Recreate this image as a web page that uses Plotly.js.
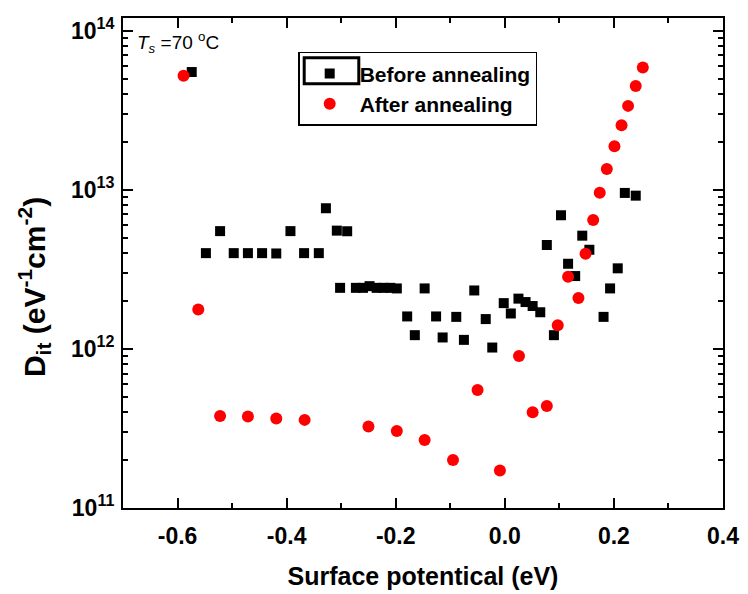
<!DOCTYPE html>
<html>
<head>
<meta charset="utf-8">
<script src="https://cdn.plot.ly/plotly-3.0.1.min.js"></script>
<style>html,body{margin:0;padding:0;background:#fff;}</style>
</head>
<body>
<div id="chart" style="width:748px;height:594px;"></div>
<script>
// Before annealing (black squares)
const beforeX = [-0.574, -0.548, -0.522, -0.497, -0.471, -0.445, -0.419, -0.393, -0.368, -0.341,
  -0.328, -0.308, -0.302, -0.289, -0.273, -0.260, -0.248, -0.235, -0.222, -0.210, -0.198,
  -0.179, -0.165, -0.147, -0.126, -0.114, -0.089, -0.075, -0.056, -0.035, -0.023, -0.002,
  0.011, 0.025, 0.038, 0.051, 0.065, 0.090, 0.077, 0.103, 0.116, 0.129, 0.142, 0.155,
  0.181, 0.193, 0.207, 0.220, 0.240];
const beforeY = [5.5e13, 4.0e12, 5.5e12, 4.0e12, 4.0e12, 4.0e12, 3.98e12, 5.5e12, 4.0e12, 4.0e12,
  7.66e12, 5.54e12, 2.42e12, 5.49e12, 2.42e12, 2.42e12, 2.48e12, 2.42e12, 2.42e12, 2.42e12, 2.40e12,
  1.60e12, 1.22e12, 2.40e12, 1.60e12, 1.18e12, 1.59e12, 1.14e12, 2.33e12, 1.54e12, 1.02e12, 1.94e12,
  1.67e12, 2.07e12, 1.97e12, 1.86e12, 1.70e12, 1.22e12, 4.50e12, 6.92e12, 3.43e12, 2.87e12, 5.15e12, 4.20e12,
  1.59e12, 2.40e12, 3.21e12, 9.56e12, 9.19e12];

// After annealing (red circles)
const afterX = [-0.589, -0.562, -0.522, -0.471, -0.419, -0.367, -0.250, -0.198, -0.147, -0.095,
  -0.050, -0.009, 0.026, 0.051, 0.077, 0.097, 0.116, 0.135, 0.148, 0.162, 0.174, 0.187,
  0.201, 0.214, 0.226, 0.240, 0.253];
const afterY = [5.21e13, 1.77e12, 3.79e11, 3.76e11, 3.65e11, 3.58e11, 3.25e11, 3.05e11, 2.68e11, 2.00e11,
  5.51e11, 1.72e11, 9.01e11, 4.00e11, 4.37e11, 1.41e12, 2.84e12, 2.09e12, 3.97e12, 6.47e12, 9.60e12, 1.35e13,
  1.88e13, 2.55e13, 3.37e13, 4.49e13, 5.87e13];

const seriesNames = ["Before annealing", "After annealing"];
const xTickVals = [-0.6, -0.4, -0.2, 0.0, 0.2, 0.4];
const xTickText = ["-0.6", "-0.4", "-0.2", "0.0", "0.2", "0.4"];
const yTickVals = [1e11, 1e12, 1e13, 1e14];
const yTickText = ["10<sup>11</sup>", "10<sup>12</sup>", "10<sup>13</sup>", "10<sup>14</sup>"];
const xTitle = "Surface potentical (eV)";
const yTitle = "D<sub>it</sub> (eV<sup>-1</sup>cm<sup>-2</sup>)";
const noteText = "<i>T</i><sub><i>s</i></sub> =70 <sup>o</sup>C";

const FONT = "Liberation Sans, Arial, Helvetica, sans-serif";
const bold = s => "<b>" + s + "</b>";

const traces = [
  {x: beforeX, y: beforeY, name: seriesNames[0], type: "scatter", mode: "markers",
   marker: {symbol: "square", size: 10, color: "#000000"}},
  {x: afterX, y: afterY, name: seriesNames[1], type: "scatter", mode: "markers",
   marker: {symbol: "circle", size: 12, color: "#ff0000"}}
];

const axisCommon = {
  showline: true, linecolor: "#000", linewidth: 2,
  mirror: "allticks", ticks: "inside", ticklen: 10, tickwidth: 2, tickcolor: "#000",
  showgrid: false, zeroline: false,
  tickfont: {family: FONT, size: 23, color: "#000", weight: "bold"}
};

const layout = {
  width: 748, height: 594,
  margin: {l: 122.7, r: 24.7, t: 18.3, b: 86.3},
  paper_bgcolor: "#fff", plot_bgcolor: "#fff",
  showlegend: true,
  xaxis: Object.assign({}, axisCommon, {
    range: [-0.7, 0.4], tickmode: "array", tickvals: xTickVals, ticktext: xTickText.map(bold),
    ticklabelstandoff: 6,
    minor: {tickmode: "linear", tick0: 0, dtick: 0.1, ticks: "inside", ticklen: 5, tickwidth: 2, tickcolor: "#000", showgrid: false},
    title: {text: bold(xTitle), font: {family: FONT, size: 25, color: "#000", weight: "bold"}, standoff: 20}
  }),
  yaxis: Object.assign({}, axisCommon, {
    type: "log", range: [11, 14.08], tickmode: "array", tickvals: yTickVals, ticktext: yTickText.map(bold),
    ticklabelstandoff: 2,
    minor: {dtick: "D1", ticks: "inside", ticklen: 5, tickwidth: 2, tickcolor: "#000", showgrid: false}
  }),
  legend: {
    x: 0.292, y: 0.931, xanchor: "left", yanchor: "top",
    bgcolor: "rgba(0,0,0,0)", bordercolor: "#000", borderwidth: 1.5,
    itemwidth: 50,
    font: {family: FONT, size: 21, color: "#000", weight: "bold"}
  },
  annotations: [
    {text: noteText, xref: "paper", yref: "paper", x: 0.02, y: 0.95,
     xanchor: "left", yanchor: "middle", showarrow: false,
     font: {family: FONT, size: 19, color: "#000"}},
    {text: bold(yTitle), xref: "paper", yref: "paper", x: -0.149, y: 0.45,
     xanchor: "center", yanchor: "middle", textangle: -90, showarrow: false,
     font: {family: FONT, size: 30, color: "#000", weight: "bold"}}
  ],
  shapes: [
    {type: "rect", xref: "paper", yref: "paper", x0: 0.302, x1: 0.393, y0: 0.866, y1: 0.919,
     line: {color: "#000", width: 3}, fillcolor: "rgba(0,0,0,0)"}
  ]
};

Plotly.newPlot("chart", traces, layout, {displayModeBar: false, staticPlot: true});
</script>
</body>
</html>
